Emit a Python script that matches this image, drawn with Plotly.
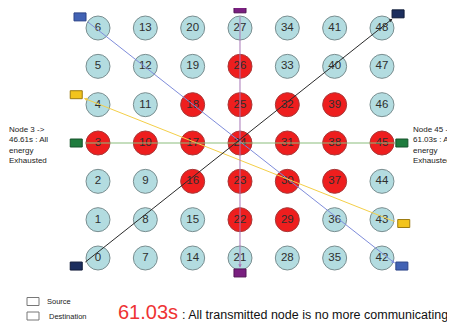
import plotly.graph_objects as go

# 7x7 grid of sensor nodes, node id -> column = id // 7, row = id % 7
node_ids = list(range(49))
dead_nodes = [3, 10, 16, 17, 18, 22, 23, 24, 25, 26, 29, 30, 31, 32, 37, 38, 39, 45]

# flows: source node -> destination node
flow_src = [6, 43, 3, 27, 0]
flow_dst = [42, 4, 45, 21, 48]

left_note = ["Node 3 ->", "46.61s : All", "energy", "Exhausted"]
right_note = ["Node 45 ->", "61.03s : All", "energy", "Exhausted"]
legend_labels = ["Source", "Destination"]
end_time = "61.03s"
end_msg = ": All transmitted node is no more communicating"

# the page body has an 8px margin, so the figure is 8px smaller than the window
OFF = 8
W, H = 455 - OFF, 324 - OFF
FONT = "Liberation Sans, Arial, sans-serif"

def pos(n):
    return n // 7, n % 7

# styles per flow (rect fill, rect border, line colour, arrowhead)
flow_style = [
    ("#4262b4", "#2c4488", "#7f8ddb", 2),
    ("#f3c41c", "#9c7a10", "#f4cf48", 2),
    ("#1f7c3e", "#15522a", "#8bbd7c", 0),
    ("#7a1f80", "#521455", "#a878b8", 2),
    ("#1c2e5e", "#0f1a38", "#2a2a2a", 2),
]
# where the small box sits relative to its node (grid units)
box_off_src = [(-0.38, 0.29), (0.46, -0.10), (-0.46, 0.0), (0.0, 0.50), (-0.46, -0.21)]
box_off_dst = [(0.42, -0.21), (-0.46, 0.26), (0.42, 0.0), (0.0, -0.39), (0.34, 0.37)]

fig = go.Figure()

alive = [n for n in node_ids if n not in dead_nodes]
for group, fill, edge in [(alive, "#b3dce0", "#7a8e90"), (dead_nodes, "#ee1e1e", "#a83838")]:
    fig.add_trace(go.Scatter(
        x=[pos(n)[0] for n in group], y=[pos(n)[1] for n in group],
        mode="markers+text", text=[str(n) for n in group],
        textposition="middle center",
        textfont=dict(family=FONT, size=11.5, color="#2e2e2e"),
        marker=dict(size=24, color=fill, line=dict(color=edge, width=1)),
        hoverinfo="skip", showlegend=False))

bw, bh = 0.127, 0.104
f = 0.35
for i, (s, d) in enumerate(zip(flow_src, flow_dst)):
    fill, border, lc, head = flow_style[i]
    sx, sy = pos(s)
    dx, dy = pos(d)
    bsx, bsy = sx + box_off_src[i][0], sy + box_off_src[i][1]
    bdx, bdy = dx + box_off_dst[i][0], dy + box_off_dst[i][1]
    # line tail / head slightly in from the boxes toward the nodes
    tx, ty = bsx + f * (sx - bsx), bsy + f * (sy - bsy)
    hx, hy = bdx + f * (dx - bdx), bdy + f * (dy - bdy)
    fig.add_annotation(x=hx, y=hy, ax=tx, ay=ty, xref="x", yref="y",
                       axref="x", ayref="y", text="", showarrow=True,
                       arrowhead=head, arrowsize=0.7, arrowwidth=1,
                       arrowcolor=lc, standoff=0, startstandoff=0)
    for bx, by in [(bsx, bsy), (bdx, bdy)]:
        fig.add_shape(type="rect", xref="x", yref="y",
                      x0=bx - bw, x1=bx + bw, y0=by - bh, y1=by + bh,
                      fillcolor=fill, line=dict(color=border, width=1))

def px(x):
    return (x - OFF) / W

def py(y):
    return 1 - (y - OFF) / H

fig.add_annotation(x=px(7), y=py(145), xref="paper", yref="paper",
                   text="<br>".join(left_note), showarrow=False,
                   xanchor="left", yanchor="middle", align="left",
                   font=dict(family=FONT, size=8, color="#222"))
fig.add_annotation(x=px(411), y=py(145), xref="paper", yref="paper",
                   text="<br>".join(right_note), showarrow=False,
                   xanchor="left", yanchor="middle", align="left",
                   font=dict(family=FONT, size=8, color="#222"))

for k, lab in enumerate(legend_labels):
    cy = 301.5 + 14.5 * k
    fig.add_shape(type="rect", xref="paper", yref="paper",
                  x0=px(27), x1=px(39), y0=py(cy - 4), y1=py(cy + 4),
                  fillcolor="white", line=dict(color="#777777", width=1))
    fig.add_annotation(x=px(45 + 1.5 * k), y=py(cy), xref="paper", yref="paper",
                       text=lab, showarrow=False, xanchor="left", yanchor="middle",
                       font=dict(family=FONT, size=7.5, color="#222"))

fig.add_annotation(x=px(116), y=py(312), xref="paper", yref="paper",
                   text=end_time, showarrow=False, xanchor="left", yanchor="middle",
                   font=dict(family=FONT, size=20, color="#ee3333"))
fig.add_annotation(x=px(180), y=py(315), xref="paper", yref="paper",
                   text=end_msg, showarrow=False, xanchor="left", yanchor="middle",
                   font=dict(family=FONT, size=12.5, color="#111"))

fig.update_xaxes(range=[-(98 - OFF) / 47.33, (455 - 98) / 47.33], visible=False)
fig.update_yaxes(range=[(258 - 324) / 38.33, (258 - OFF) / 38.33], visible=False)
fig.update_layout(width=W, height=H, margin=dict(l=0, r=0, t=0, b=0),
                  paper_bgcolor="white", plot_bgcolor="white")

fig.write_html("out.html")
